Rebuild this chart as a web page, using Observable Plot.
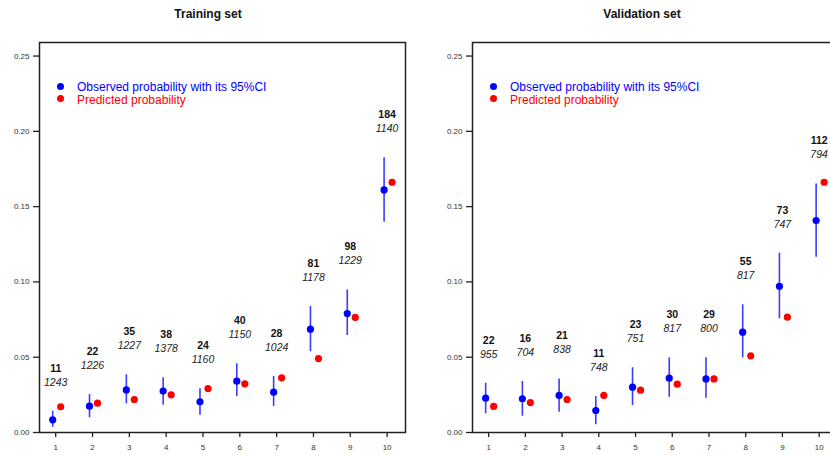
<!DOCTYPE html>
<html><head><meta charset="utf-8">
<script src="https://cdn.jsdelivr.net/npm/d3@7"></script>
<script src="https://cdn.jsdelivr.net/npm/@observablehq/plot@0.6"></script>
<style>
body{margin:0;width:830px;height:455px;overflow:hidden;position:relative;background:#fff;font-family:"Liberation Sans",Arial,sans-serif}
.panel{position:absolute;top:0}
.panel svg{max-width:none !important;height:455px !important}
.title{position:absolute;top:7px;font-weight:bold;font-size:12px;color:#111;transform:translateX(-50%);white-space:nowrap}
.leg{position:absolute;font-size:12px;line-height:14px;white-space:nowrap}
.leg .dot{position:absolute;width:7px;height:7px;border-radius:50%}
</style></head><body>
<div id="left" class="panel" style="left:0;width:415px"></div>
<div id="right" class="panel" style="left:415px;width:430px"></div>
<div class="title" style="left:208px">Training set</div>
<div class="title" style="left:642px">Validation set</div>
<div class="leg" style="left:77px;top:80px;color:#0000ff"><span class="dot" style="background:#0000ff;left:-20px;top:3px"></span>Observed probability with its 95%CI</div>
<div class="leg" style="left:77px;top:93px;color:#ff0000"><span class="dot" style="background:#ff0000;left:-20px;top:2px"></span>Predicted probability</div>
<div class="leg" style="left:510px;top:80px;color:#0000ff"><span class="dot" style="background:#0000ff;left:-20px;top:3px"></span>Observed probability with its 95%CI</div>
<div class="leg" style="left:510px;top:93px;color:#ff0000"><span class="dot" style="background:#ff0000;left:-20px;top:2px"></span>Predicted probability</div>
<script>
const groups = [1, 2, 3, 4, 5, 6, 7, 8, 9, 10];
const yTicks = [0, 0.05, 0.10, 0.15, 0.20, 0.25];

// Training set
const trainObs  = [0.0084, 0.0175, 0.0283, 0.0275, 0.0204, 0.0341, 0.0268, 0.0686, 0.0790, 0.1611];
const trainLo   = [0.0035, 0.0098, 0.0190, 0.0181, 0.0115, 0.0239, 0.0173, 0.0536, 0.0644, 0.1397];
const trainHi   = [0.0141, 0.0252, 0.0383, 0.0363, 0.0290, 0.0456, 0.0372, 0.0837, 0.0947, 0.1824];
const trainPred = [0.0171, 0.0195, 0.0219, 0.0250, 0.0292, 0.0323, 0.0363, 0.0491, 0.0764, 0.1662];
const trainEvents = [11, 22, 35, 38, 24, 40, 28, 81, 98, 184];
const trainTotals = [1243, 1226, 1227, 1378, 1160, 1150, 1024, 1178, 1229, 1140];

// Validation set
const validObs  = [0.0228, 0.0224, 0.0246, 0.0146, 0.0301, 0.0361, 0.0356, 0.0666, 0.0971, 0.1408];
const validLo   = [0.0124, 0.0108, 0.0135, 0.0051, 0.0179, 0.0234, 0.0228, 0.0496, 0.0755, 0.1164];
const validHi   = [0.0327, 0.0339, 0.0356, 0.0239, 0.0430, 0.0496, 0.0496, 0.0848, 0.1191, 0.1651];
const validPred = [0.0173, 0.0199, 0.0219, 0.0246, 0.0281, 0.0321, 0.0356, 0.0509, 0.0766, 0.1662];
const validEvents = [22, 16, 21, 11, 23, 30, 29, 55, 73, 112];
const validTotals = [955, 704, 838, 748, 751, 817, 800, 817, 747, 794];

function panel(obs, lo, hi, pred, events, totals, layout) {
  const data = groups.map((g, i) => ({g, obs: obs[i], lo: lo[i], hi: hi[i], pred: pred[i], ev: String(events[i]), n: String(totals[i])}));
  return Plot.plot({
    width: layout.width, height: 455,
    marginTop: 42, marginBottom: 23, marginLeft: layout.ml, marginRight: layout.mr,
    style: {fontFamily: "Liberation Sans, Arial, sans-serif", fontSize: "8px", background: "transparent", color: "#333"},
    x: {domain: [0.56, 10.5]},
    y: {domain: [0, 0.259]},
    marks: [
      Plot.axisX({ticks: groups, tickFormat: d => String(d), tickSize: 5, tickPadding: 7, stroke: "#222", strokeWidth: 1.3, fill: "#333", label: null}),
      Plot.axisY({ticks: yTicks, tickFormat: ".2f", tickSize: 6, tickPadding: 4, stroke: "#222", strokeWidth: 1.3, fill: "#333", label: null}),
      Plot.frame({stroke: "#222", strokeWidth: 1.5}),
      Plot.ruleX(data, {x: "g", y1: "lo", y2: "hi", dx: -3, stroke: "#3c3cff", strokeWidth: 1.6}),
      Plot.dot(data, {x: "g", y: "obs", dx: -3, r: 3.6, fill: "#0000ff", stroke: "none"}),
      Plot.dot(data, {x: "g", y: "pred", dx: 5, r: 3.6, fill: "#ff0000", stroke: "none"}),
      Plot.text(data, {x: "g", y: "hi", text: "ev", dy: -43, fontWeight: "bold", fontSize: 10.5, fill: "#111"}),
      Plot.text(data, {x: "g", y: "hi", text: "n", dy: -29, fontStyle: "italic", fontSize: 10.5, fill: "#222"})
    ]
  });
}

document.getElementById("left").appendChild(
  panel(trainObs, trainLo, trainHi, trainPred, trainEvents, trainTotals, {width: 415, ml: 39, mr: 10}));
document.getElementById("right").appendChild(
  panel(validObs, validLo, validHi, validPred, validEvents, validTotals, {width: 430, ml: 57, mr: 8}));
</script>
</body></html>
